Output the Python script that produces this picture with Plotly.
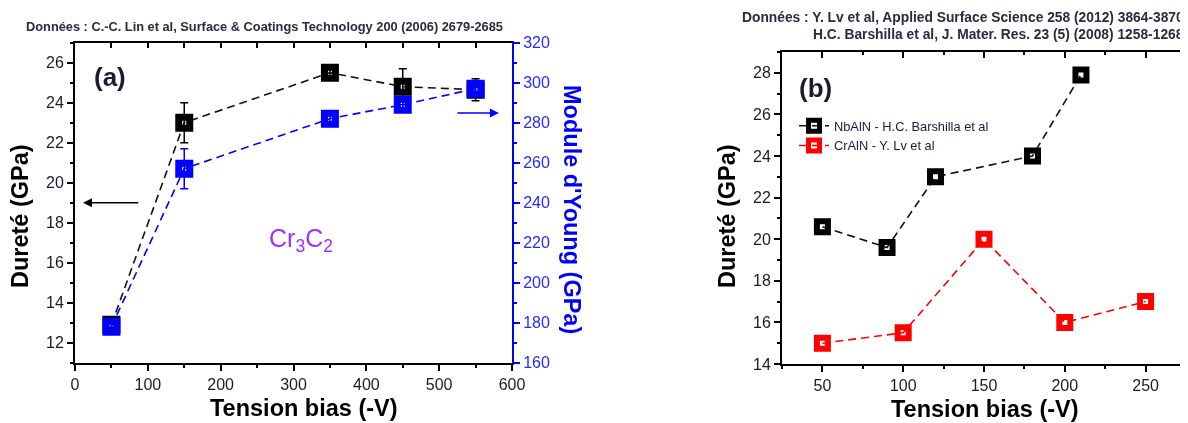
import plotly.graph_objects as go

# ---------------- Data ----------------
# Panel (a) : Cr3C2, C.-C. Lin et al
bias_a = [50, 150, 350, 450, 550]
durete_a = [12.9, 23.0, 25.5, 24.8, 24.65]
durete_a_err = [0.2, 1.0, 0.3, 0.9, 0.55]
young_a = [178, 257, 282, 289, 297]
young_a_err = [2, 10, 2, 3, 3]

# Panel (b)
bias_nbaln = [50, 90, 120, 180, 210]
durete_nbaln = [20.6, 19.6, 23.0, 24.0, 27.9]
bias_craln = [50, 100, 150, 200, 250]
durete_craln = [15.0, 15.5, 20.0, 16.0, 17.0]

FONT = "Liberation Sans, Arial, sans-serif"
OFF = 8  # default page margin of the HTML body
W, H = 1188 - OFF, 423 - OFF

def px_x(p):
    return (p - OFF) / W

def px_y(p):
    return 1 - (p - OFF) / H

dom_ax = [px_x(75), px_x(512)]
dom_ay = [px_y(362.7), px_y(42.7)]
dom_bx = [px_x(782), px_x(1186)]
dom_by = [px_y(364), px_y(52)]

BLUE = "#0000ff"
DASH = "8px,5px"

fig = go.Figure()

# Panel (a) traces
fig.add_trace(go.Scatter(
    x=bias_a, y=durete_a, xaxis="x", yaxis="y", mode="lines+markers",
    line=dict(color="#111111", width=1.6, dash=DASH),
    marker=dict(symbol="square-open", size=11, color="#000000", line=dict(width=7, color="#000000")),
    error_y=dict(type="data", array=durete_a_err, color="#000000", thickness=1.5, width=4),
    showlegend=False, name="Dureté"))
fig.add_trace(go.Scatter(
    x=bias_a, y=young_a, xaxis="x", yaxis="y2", mode="lines+markers",
    line=dict(color=BLUE, width=1.6, dash=DASH),
    marker=dict(symbol="square-open", size=11, color=BLUE, line=dict(width=7, color=BLUE)),
    error_y=dict(type="data", array=young_a_err, color=BLUE, thickness=1.5, width=4),
    showlegend=False, name="Module d'Young"))
# invisible helper so the mirrored top axis of panel (a) is drawn
fig.add_trace(go.Scatter(
    x=bias_a, y=durete_a, xaxis="x2", yaxis="y", mode="markers", opacity=0,
    hoverinfo="skip", showlegend=False))

# Panel (b) traces
fig.add_trace(go.Scatter(
    x=bias_nbaln, y=durete_nbaln, xaxis="x3", yaxis="y3", mode="lines+markers",
    line=dict(color="#111111", width=1.6, dash=DASH),
    marker=dict(symbol="square-open", size=11, color="#000000", line=dict(width=6, color="#000000")),
    name="NbAlN - H.C. Barshilla et al"))
fig.add_trace(go.Scatter(
    x=bias_craln, y=durete_craln, xaxis="x3", yaxis="y3", mode="lines+markers",
    line=dict(color="#ff0000", width=1.6, dash=DASH),
    marker=dict(symbol="square-open", size=11, color="#ff0000", line=dict(width=6, color="#ff0000")),
    name="CrAlN - Y. Lv et al"))
# invisible helper so the mirrored top/right axes of panel (b) are drawn
fig.add_trace(go.Scatter(
    x=bias_craln, y=durete_craln, xaxis="x4", yaxis="y4", mode="markers", opacity=0,
    hoverinfo="skip", showlegend=False))

tickfont = dict(family=FONT, size=16, color="#1a1a2a")
base = dict(showgrid=False, zeroline=False, showline=True, linewidth=2, linecolor="#000000",
            tickcolor="#000000", tickwidth=1.5, automargin=False)
axis_common = dict(base, tickfont=tickfont)

fig.update_layout(
    width=W, height=H, margin=dict(l=0, r=0, t=0, b=0, autoexpand=False),
    paper_bgcolor="white", plot_bgcolor="white",
    font=dict(family=FONT),
    xaxis=dict(domain=dom_ax, range=[0, 600], anchor="y", tick0=0, dtick=100, ticks="outside", ticklen=6,
               minor=dict(dtick=50, ticklen=3, ticks="outside", tickcolor="#000000", tickwidth=1.5),
               **axis_common),
    xaxis2=dict(domain=dom_ax, range=[0, 600], anchor="y", overlaying="x", side="top", tick0=0, dtick=50,
                ticks="inside", ticklen=5, showticklabels=False, **base),
    yaxis=dict(domain=dom_ay, range=[11, 27], anchor="x", tick0=0, dtick=2, ticks="outside", ticklen=6,
               minor=dict(dtick=1, ticklen=3, ticks="outside", tickcolor="#000000", tickwidth=1.5),
               **axis_common),
    yaxis2=dict(domain=dom_ay, range=[160, 320], anchor="x", overlaying="y", side="right", tick0=0, dtick=20,
                ticks="outside", ticklen=6, showgrid=False, zeroline=False, showline=True, linewidth=2,
                linecolor=BLUE, tickcolor=BLUE, tickwidth=1.5, automargin=False,
                tickfont=dict(family=FONT, size=16, color="#2a2aff"),
                minor=dict(dtick=10, ticklen=3, ticks="outside", tickcolor=BLUE, tickwidth=1.5)),
    xaxis3=dict(domain=dom_bx, range=[25, 275], anchor="y3", tick0=0, dtick=50, ticks="outside", ticklen=6,
                minor=dict(dtick=25, ticklen=3, ticks="outside", tickcolor="#000000", tickwidth=1.5),
                **axis_common),
    xaxis4=dict(domain=dom_bx, range=[25, 275], anchor="y4", overlaying="x3", side="top", tick0=0, dtick=50,
                ticks="inside", ticklen=6, showticklabels=False,
                minor=dict(dtick=25, ticklen=3, ticks="inside", tickcolor="#000000", tickwidth=1.5),
                **base),
    yaxis3=dict(domain=dom_by, range=[14, 29], anchor="x3", tick0=0, dtick=2, ticks="outside", ticklen=6,
                minor=dict(dtick=1, ticklen=3, ticks="outside", tickcolor="#000000", tickwidth=1.5),
                **axis_common),
    yaxis4=dict(domain=dom_by, range=[14, 29], anchor="x4", overlaying="y3", side="right", tick0=0, dtick=2,
                ticks="inside", ticklen=6, showticklabels=False,
                minor=dict(dtick=1, ticklen=3, ticks="inside", tickcolor="#000000", tickwidth=1.5),
                **base),
    legend=dict(x=px_x(794), y=px_y(111), xanchor="left", yanchor="top", bgcolor="rgba(0,0,0,0)",
                font=dict(family=FONT, size=12.8, color="#1a1a40"), tracegroupgap=0, itemwidth=30),
)

title_font = dict(family=FONT, size=23.5, color="#000000")
cite_col = "#2a2a40"
ann = []
# citations
ann.append(dict(text="<b>Données : C.-C. Lin et al, Surface & Coatings Technology 200 (2006) 2679-2685</b>",
                x=px_x(24), y=px_y(26), xref="paper", yref="paper", xanchor="left", yanchor="middle",
                showarrow=False, font=dict(family=FONT, size=12.8, color=cite_col)))
ann.append(dict(text="<b>Données : Y. Lv et al, Applied Surface Science 258 (2012) 3864-3870</b>",
                x=px_x(1186), y=px_y(17), xref="paper", yref="paper", xanchor="right", yanchor="middle",
                showarrow=False, font=dict(family=FONT, size=13.8, color=cite_col)))
ann.append(dict(text="<b>H.C. Barshilla et al, J. Mater. Res. 23 (5) (2008) 1258-1268</b>",
                x=px_x(1186), y=px_y(34), xref="paper", yref="paper", xanchor="right", yanchor="middle",
                showarrow=False, font=dict(family=FONT, size=13.8, color=cite_col)))
# axis titles panel (a)
ann.append(dict(text="<b>Tension bias (-V)</b>", x=px_x(304), y=px_y(408), xref="paper", yref="paper",
                xanchor="center", yanchor="middle", showarrow=False, font=title_font))
ann.append(dict(text="<b>Dureté (GPa)</b>", x=px_x(20), y=px_y(216), xref="paper", yref="paper",
                xanchor="center", yanchor="middle", textangle=-90, showarrow=False, font=title_font))
ann.append(dict(text="<b>Module d'Young (GPa)</b>", x=px_x(572), y=px_y(209), xref="paper", yref="paper",
                xanchor="center", yanchor="middle", textangle=90, showarrow=False,
                font=dict(family=FONT, size=23.5, color=BLUE)))
# axis titles panel (b)
ann.append(dict(text="<b>Tension bias (-V)</b>", x=px_x(985), y=px_y(409), xref="paper", yref="paper",
                xanchor="center", yanchor="middle", showarrow=False, font=title_font))
ann.append(dict(text="<b>Dureté (GPa)</b>", x=px_x(727), y=px_y(216), xref="paper", yref="paper",
                xanchor="center", yanchor="middle", textangle=-90, showarrow=False, font=title_font))
# panel labels
ann.append(dict(text="<b>(a)</b>", x=px_x(110), y=px_y(77), xref="paper", yref="paper",
                xanchor="center", yanchor="middle", showarrow=False,
                font=dict(family=FONT, size=26, color="#1a1a30")))
ann.append(dict(text="<b>(b)</b>", x=px_x(815), y=px_y(88), xref="paper", yref="paper",
                xanchor="center", yanchor="middle", showarrow=False,
                font=dict(family=FONT, size=26, color="#1a1a30")))
ann.append(dict(text="Cr<sub>3</sub>C<sub>2</sub>", x=px_x(301), y=px_y(240), xref="paper", yref="paper",
                xanchor="center", yanchor="middle", showarrow=False,
                font=dict(family=FONT, size=25, color="#9b30ff")))
# arrows
ann.append(dict(x=11, y=19, ax=89, ay=19, xref="x", yref="y", axref="x", ayref="y", text="",
                showarrow=True, arrowhead=2, arrowsize=1.2, arrowwidth=1.5, arrowcolor="#000000"))
ann.append(dict(x=582, y=23.48, ax=523, ay=23.48, xref="x", yref="y", axref="x", ayref="y", text="",
                showarrow=True, arrowhead=2, arrowsize=1.2, arrowwidth=1.5, arrowcolor=BLUE))
fig.update_layout(annotations=ann)

fig.write_html("out.html")
